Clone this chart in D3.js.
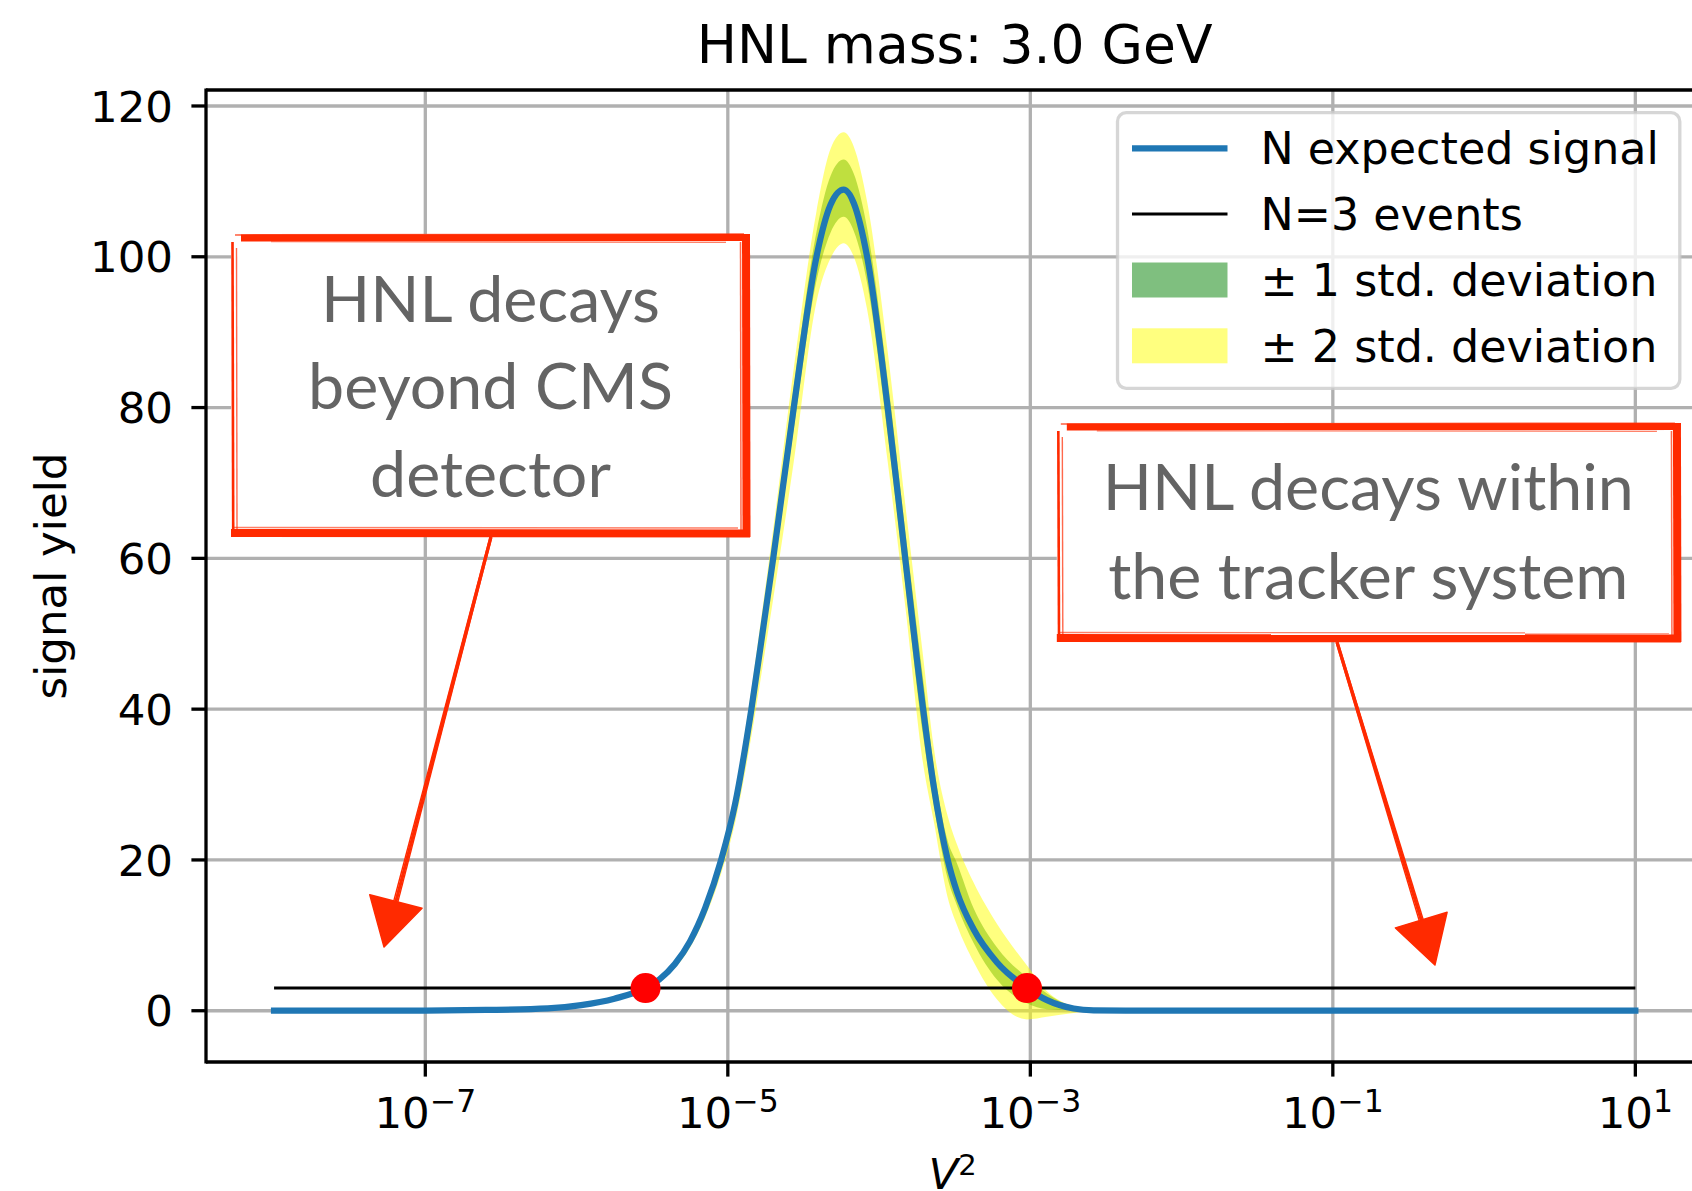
<!DOCTYPE html>
<html>
<head>
<meta charset="utf-8">
<script src="https://cdn.jsdelivr.net/npm/d3@7"></script>
<style>
  html, body { margin: 0; padding: 0; background: #ffffff; }
  svg { display: block; }
  text { font-family: "DejaVu Sans", sans-serif; }
</style>
</head>
<body>
<svg id="chart" width="1692" height="1191"></svg>
<script>
// ---- data -----------------------------------------------------------------
// sample positions along the curve, as log10(V^2)
const logV2 = [-8.0, -7.5, -7.0, -6.6, -6.19, -5.97, -5.75, -5.544, -5.45, -5.35,
  -5.25, -5.15, -5.044, -4.95, -4.845, -4.765, -4.700, -4.564, -4.414, -4.321,
  -4.234, -4.167, -4.079, -3.943, -3.826, -3.709, -3.639, -3.546, -3.484, -3.375,
  -3.220, -3.022, -2.890, -2.714, -2.582, -2.3, -2.0, 1.0];
// expected signal yield
const yieldMean = [0, 0.01, 0.03, 0.1, 0.3, 0.75, 1.6, 3.0, 4.2, 6.2,
  9.2, 13.6, 20.0, 27.6, 39.9, 50.9, 60.0, 80.0, 100.0, 106.9,
  108.9, 107.1, 100.0, 80.0, 59.8, 40.0, 29.8, 20.0, 15.7, 10.8,
  6.4, 3.0, 1.4, 0.3, 0.05, 0, 0, 0];
// -1 sigma / +1 sigma
const band1Lo = [0, 0.01, 0.03, 0.1, 0.29, 0.72, 1.54, 2.9, 4.05, 5.98,
  8.88, 13.12, 19.3, 26.6, 38.5, 49.1, 57.9, 77.2, 96.8, 103.2,
  105.3, 103.4, 96.5, 76.4, 56.4, 36.5, 27.4, 17.5, 13.9, 9.0,
  4.1, 1.0, 0.2, 0.05, 0.02, 0, 0, 0];
const band1Hi = [0, 0.01, 0.03, 0.1, 0.31, 0.78, 1.66, 3.1, 4.35, 6.42,
  9.52, 14.08, 20.7, 28.6, 41.3, 52.7, 62.1, 82.8, 103.3, 110.7,
  112.9, 111.0, 103.8, 83.7, 63.5, 44.0, 32.6, 22.5, 19.5, 13.6,
  8.4, 4.4, 2.3, 0.5, 0.08, 0, 0, 0];
// -2 sigma / +2 sigma
const band2Lo = [0, 0.01, 0.03, 0.09, 0.27, 0.68, 1.45, 2.73, 3.82, 5.64,
  8.37, 12.38, 18.2, 25.1, 36.3, 46.3, 54.6, 72.8, 94.0, 99.8,
  101.8, 100.0, 93.0, 72.8, 53.5, 32.8, 25.2, 15.0, 11.3, 6.5,
  1.5, -1.15, -0.8, -0.3, -0.05, 0, 0, 0];
const band2Hi = [0, 0.01, 0.03, 0.11, 0.32, 0.8, 1.7, 3.2, 4.47, 6.6,
  9.8, 14.48, 21.3, 29.4, 42.5, 54.2, 63.9, 85.2, 106.0, 114.3,
  116.5, 114.6, 107.3, 87.4, 67.0, 47.0, 35.0, 25.8, 22.0, 17.0,
  11.5, 6.0, 2.6, 0.6, 0.1, 0, 0, 0];

const thresholdN = 3;
const thresholdRange = [-8, 1];            // log10(V^2) extent of the N=3 line
const crossingsLogV2 = [-5.544, -3.022];   // where the yield meets N=3

const xTickExps = [-7, -5, -3, -1, 1];
const yTicks = [0, 20, 40, 60, 80, 100, 120];
const legendLabels = ["N expected signal", "N=3 events", "\u00b1 1 std. deviation", "\u00b1 2 std. deviation"];
const titleText = "HNL mass: 3.0 GeV";

// ---- layout ---------------------------------------------------------------
const svg = d3.select("#chart");
const plot = { left: 206, right: 1703.4, top: 90, bottom: 1062 };

const x = d3.scaleLog().domain([Math.pow(10, -8.45), Math.pow(10, 1.45)]).range([plot.left, plot.right]);
const y = d3.scaleLinear().domain([-6.8, 122.12]).range([plot.bottom, plot.top]);

// axes-fraction helpers for the annotation callouts
const fx = f => plot.left + f * (plot.right - plot.left);
const fy = f => plot.bottom - f * (plot.bottom - plot.top);

const rows = logV2.map((l, i) => ({
  v: Math.pow(10, l), m: yieldMean[i],
  lo1: band1Lo[i], hi1: band1Hi[i], lo2: band2Lo[i], hi2: band2Hi[i]
}));

svg.append("defs").append("clipPath").attr("id", "plotclip")
  .append("rect").attr("x", plot.left).attr("y", plot.top)
  .attr("width", plot.right - plot.left).attr("height", plot.bottom - plot.top);

// ---- grid -----------------------------------------------------------------
const grid = svg.append("g").attr("clip-path", "url(#plotclip)");
grid.selectAll(".gx").data(xTickExps).join("line")
  .attr("x1", d => x(Math.pow(10, d))).attr("x2", d => x(Math.pow(10, d)))
  .attr("y1", plot.top).attr("y2", plot.bottom)
  .attr("stroke", "#b0b0b0").attr("stroke-width", 3.3);
grid.selectAll(".gy").data(yTicks).join("line")
  .attr("x1", plot.left).attr("x2", plot.right)
  .attr("y1", d => y(d)).attr("y2", d => y(d))
  .attr("stroke", "#b0b0b0").attr("stroke-width", 3.3);

// ---- bands, curve, threshold ------------------------------------------------
const data = svg.append("g").attr("clip-path", "url(#plotclip)");
const area1 = d3.area().x(d => x(d.v)).y0(d => y(d.lo1)).y1(d => y(d.hi1)).curve(d3.curveMonotoneX);
const area2 = d3.area().x(d => x(d.v)).y0(d => y(d.lo2)).y1(d => y(d.hi2)).curve(d3.curveMonotoneX);
data.append("path").datum(rows).attr("d", area1).attr("fill", "#008000").attr("fill-opacity", 0.5);
data.append("path").datum(rows).attr("d", area2).attr("fill", "#ffff00").attr("fill-opacity", 0.5);

const line = d3.line().x(d => x(d.v)).y(d => y(d.m)).curve(d3.curveMonotoneX);
data.append("path").datum(rows).attr("d", line)
  .attr("fill", "none").attr("stroke", "#1f77b4").attr("stroke-width", 6.25)
  .attr("stroke-linecap", "square").attr("stroke-linejoin", "round");

data.append("line")
  .attr("x1", x(Math.pow(10, thresholdRange[0]))).attr("x2", x(Math.pow(10, thresholdRange[1])))
  .attr("y1", y(thresholdN)).attr("y2", y(thresholdN))
  .attr("stroke", "#000").attr("stroke-width", 3);

data.selectAll(".dot").data(crossingsLogV2).join("circle")
  .attr("cx", d => x(Math.pow(10, d))).attr("cy", y(thresholdN)).attr("r", 15)
  .attr("fill", "#ff0000");

// ---- hand-drawn callouts ------------------------------------------------------
const RED = "#ff2a00";
function sketchBox(g, x0, y0, x1, y1) {
  g.append("rect").attr("x", x0).attr("y", y0).attr("width", x1 - x0).attr("height", y1 - y0).attr("fill", "#fff");
  const strokes = [
    // [xa, ya, xb, yb, width, opacity]
    [x0 + 10, y0 + 4, x1, y0 + 3.5, 7, 1],
    [x0 + 4, y0 + 1, x1 - 6, y0 + 0.2, 1.6, 0.75],
    [x0 + 40, y0 + 7.8, x1 - 24, y0 + 8.4, 1.2, 0.6],
    [x1 - 4, y0, x1 - 3.5, y1, 8, 1],
    [x1 - 9.5, y0 + 8, x1 - 9, y1 - 4, 1.5, 0.7],
    [x0, y1 - 4, x1, y1 - 3.5, 8, 1],
    [x0 + 3, y1 - 9.5, x1 - 12, y1 - 9, 1.4, 0.6],
    [x0 + 1.5, y0 + 8, x0 + 2.2, y1, 2.6, 1],
    [x0 + 5.5, y0 + 14, x0 + 6, y1 - 6, 1.4, 0.7]
  ];
  g.selectAll(null).data(strokes).join("line")
    .attr("x1", d => d[0]).attr("y1", d => d[1]).attr("x2", d => d[2]).attr("y2", d => d[3])
    .attr("stroke", RED).attr("stroke-width", d => d[4]).attr("stroke-opacity", d => d[5])
    .attr("stroke-linecap", "butt");
}
function sketchArrow(g, xs, ys, xt, yt) {
  const dx = xt - xs, dy = yt - ys, len = Math.hypot(dx, dy);
  const ux = dx / len, uy = dy / len, px = -uy, py = ux;
  const headLen = 47, headHalf = 27;
  const bx = xt - ux * headLen, by = yt - uy * headLen;
  [[0, 3.2], [2.2, 1.4], [-2, 1.4]].forEach(([o, w]) => {
    g.append("line")
      .attr("x1", xs + px * o * 0.4).attr("y1", ys + py * o * 0.4)
      .attr("x2", bx + ux * 6 + px * o).attr("y2", by + uy * 6 + py * o)
      .attr("stroke", RED).attr("stroke-width", w).attr("stroke-linecap", "butt");
  });
  const head = [[bx + px * headHalf, by + py * headHalf], [bx - px * headHalf, by - py * headHalf], [xt, yt]];
  g.append("path").attr("d", "M" + head.map(p => p.join(",")).join("L") + "Z")
    .attr("fill", RED).attr("stroke", RED).attr("stroke-width", 1.5).attr("stroke-linejoin", "round");
}

const notes = svg.append("g");
sketchBox(notes, fx(0.0167), fy(0.8519), fx(0.3633), fy(0.5401));
sketchBox(notes, fx(0.5682), fy(0.6574), fx(0.9850), fy(0.4321));
sketchArrow(notes, fx(0.1903), fy(0.5401), fx(0.1189), fy(0.1183));
sketchArrow(notes, fx(0.7553), fy(0.4321), fx(0.8207), fy(0.0998));

const noteText = [
  { cx: 0.19, lines: ["HNL decays", "beyond CMS", "detector"], base: [0.7616, 0.6716, 0.5816] },
  { cx: 0.7762, lines: ["HNL decays within", "the tracker system"], base: [0.5679, 0.4763] }
];
noteText.forEach(n => {
  n.lines.forEach((t, i) => {
    notes.append("text").attr("x", fx(n.cx)).attr("y", fy(n.base[i]))
      .attr("text-anchor", "middle").attr("fill", "#646464")
      .style("font-family", "Lato, 'Open Sans', sans-serif").style("font-weight", 400)
      .style("font-size", "64.5px")
      .text(t);
  });
});

// ---- spines & ticks -----------------------------------------------------------
const axes = svg.append("g");
axes.append("line").attr("x1", plot.left).attr("x2", plot.right + 10).attr("y1", plot.top).attr("y2", plot.top)
  .attr("stroke", "#000").attr("stroke-width", 3.3);
axes.append("line").attr("x1", plot.left).attr("x2", plot.right + 10).attr("y1", plot.bottom).attr("y2", plot.bottom)
  .attr("stroke", "#000").attr("stroke-width", 3.3);
axes.append("line").attr("x1", plot.left).attr("x2", plot.left).attr("y1", plot.top - 1.6).attr("y2", plot.bottom + 1.6)
  .attr("stroke", "#000").attr("stroke-width", 3.3);

axes.selectAll(".ty").data(yTicks).join("line")
  .attr("x1", plot.left - 14.6).attr("x2", plot.left).attr("y1", d => y(d)).attr("y2", d => y(d))
  .attr("stroke", "#000").attr("stroke-width", 3.3);
axes.selectAll(".tyl").data(yTicks).join("text")
  .attr("x", plot.left - 33).attr("y", d => y(d)).attr("dy", "0.36em")
  .attr("text-anchor", "end").style("font-size", "43.5px").attr("fill", "#000")
  .text(d => d);

axes.selectAll(".tx").data(xTickExps).join("line")
  .attr("x1", d => x(Math.pow(10, d))).attr("x2", d => x(Math.pow(10, d)))
  .attr("y1", plot.bottom).attr("y2", plot.bottom + 14.6)
  .attr("stroke", "#000").attr("stroke-width", 3.3);
const xtl = axes.selectAll(".txl").data(xTickExps).join("text")
  .attr("x", d => x(Math.pow(10, d))).attr("y", 1128.3)
  .attr("text-anchor", "middle").attr("fill", "#000").style("font-size", "43.5px");
xtl.append("tspan").text("10");
xtl.append("tspan").attr("dy", -16.8).style("font-size", "31.5px")
  .text(d => d < 0 ? "\u2212" + (-d) : String(d));

// axis labels and title
svg.append("text").attr("transform", `translate(66,${(plot.top + plot.bottom) / 2}) rotate(-90)`)
  .attr("text-anchor", "middle").style("font-size", "43.5px").attr("fill", "#000")
  .text("signal yield");

const xl = svg.append("text").attr("x", (plot.left + plot.right) / 2 - 2).attr("y", 1188.7)
  .attr("text-anchor", "middle").attr("fill", "#000").style("font-size", "43.5px");
xl.append("tspan").style("font-style", "italic").text("V");
xl.append("tspan").attr("dy", -14).style("font-size", "29px").text("2");

svg.append("text").attr("x", (plot.left + plot.right) / 2).attr("y", 63.3)
  .attr("text-anchor", "middle").attr("fill", "#000").style("font-size", "53.5px")
  .text(titleText);

// ---- legend ------------------------------------------------------------------
const lg = svg.append("g");
lg.append("rect").attr("x", 1117.5).attr("y", 112.7).attr("width", 562.3).attr("height", 275.6)
  .attr("rx", 8.7).attr("ry", 8.7)
  .attr("fill", "#fff").attr("fill-opacity", 0.8)
  .attr("stroke", "#cccccc").attr("stroke-opacity", 0.8).attr("stroke-width", 3.3);
const rowY = [148.3, 214.1, 280.0, 345.8];
const hx0 = 1132, hx1 = 1227.5;
lg.append("line").attr("x1", hx0).attr("x2", hx1).attr("y1", rowY[0]).attr("y2", rowY[0])
  .attr("stroke", "#1f77b4").attr("stroke-width", 6.25);
lg.append("line").attr("x1", hx0).attr("x2", hx1).attr("y1", rowY[1]).attr("y2", rowY[1])
  .attr("stroke", "#000").attr("stroke-width", 3);
lg.append("rect").attr("x", hx0).attr("y", rowY[2] - 17.5).attr("width", hx1 - hx0).attr("height", 35)
  .attr("fill", "#008000").attr("fill-opacity", 0.5);
lg.append("rect").attr("x", hx0).attr("y", rowY[3] - 17.5).attr("width", hx1 - hx0).attr("height", 35)
  .attr("fill", "#ffff00").attr("fill-opacity", 0.5);
lg.selectAll(".lt").data(legendLabels).join("text")
  .attr("x", 1260.5).attr("y", (d, i) => rowY[i] + 16)
  .attr("fill", "#000").style("font-size", "44.4px")
  .text(d => d);
</script>
</body>
</html>
